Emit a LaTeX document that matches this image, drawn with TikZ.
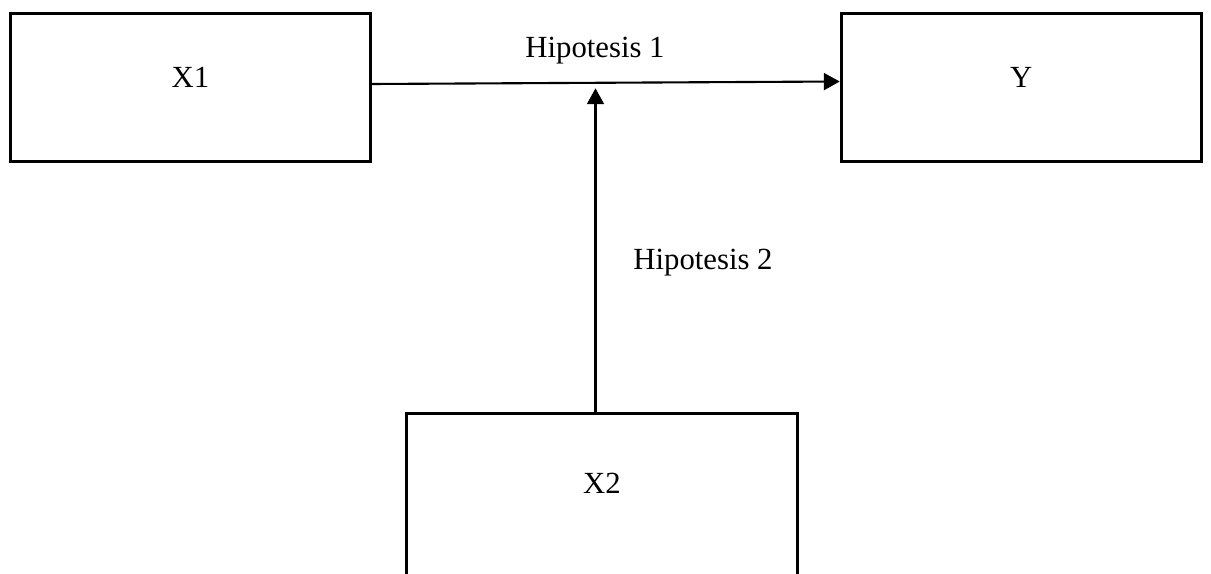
\documentclass[tikz,border=0pt]{standalone}
\usepackage{fontspec}
\setmainfont{Liberation Serif}
\usetikzlibrary{arrows.meta}

\begin{document}
\begin{tikzpicture}[x=0.02cm, y=-0.02cm,
        box/.style={draw, line width=1.7pt, minimum width=7.2cm, minimum height=2.97cm,
            text height=11.6pt, text depth=11.6pt, font=\fontsize{17.5pt}{21pt}\selectfont},
        txt/.style={anchor=base, font=\fontsize{17.5pt}{21pt}\selectfont},
        link/.style={line width=1.2pt, -{Triangle[length=9pt,width=9.6pt]}}]
        \useasboundingbox (0,0) rectangle (1211,574);
        \clip (0,0) rectangle (1211,574);

        \node[box] (X1) at (190.5,87.75) {X1};
        \node[box] (Y) at (1021.2,87.75) {Y};
        \node[box, minimum width=7.826cm, minimum height=4cm, anchor=north] (X2) at (601.7,412) {};
        \node[txt] (X2lbl) at (602,493) {X2};

        \node[txt] (H1) at (595,58) {Hipotesis 1};
        \node[txt] (H2) at (703,270) {Hipotesis 2};

        \coordinate (H1tip) at (595.5,88.3);
        \draw[link] ([yshift=0.075cm]X1.east) -- ([yshift=0.125cm]Y.west);
        \draw[link] (X2.north -| H1tip) -- (H1tip);
    \end{tikzpicture}
\end{document}
